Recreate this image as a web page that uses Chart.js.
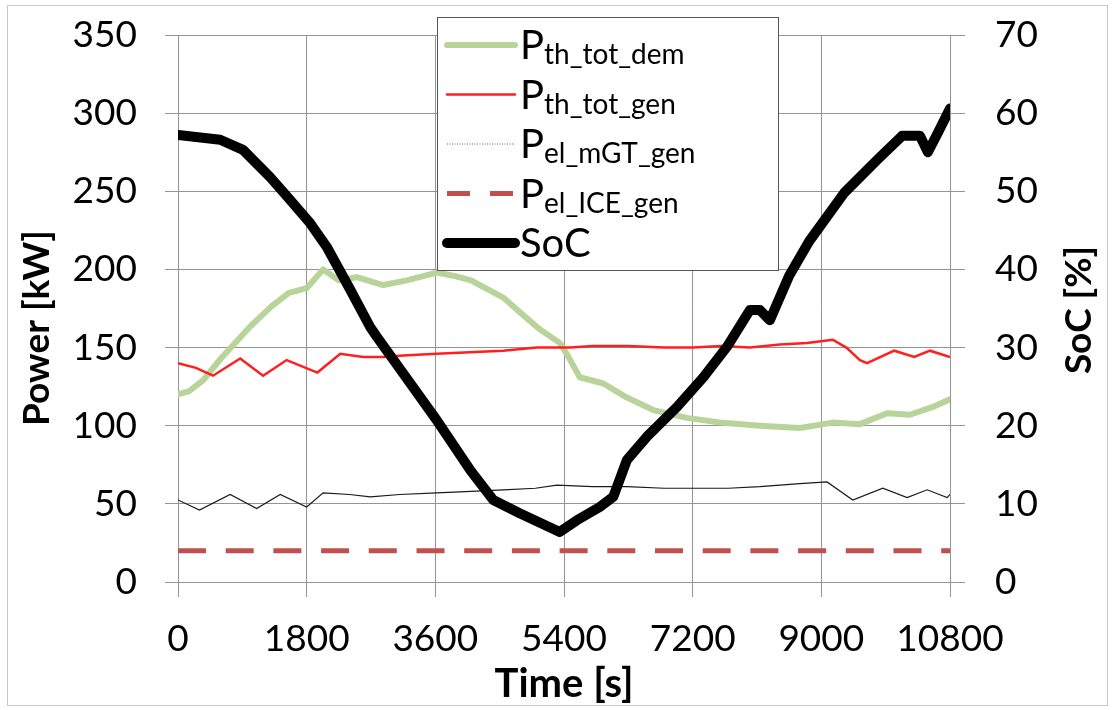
<!DOCTYPE html>
<html lang="en">
<head>
<meta charset="UTF-8">
<title>Power and SoC</title>
<script src="https://cdn.jsdelivr.net/npm/chart.js"></script>
<style>
  html, body { margin: 0; padding: 0; background: #fff; }
</style>
</head>
<body>
<canvas id="grafica" width="1115" height="710"></canvas>

<script>
// time [s] and values
const tDem = [0, 150, 350, 600, 1000, 1300, 1550, 1800, 2030, 2250, 2500, 2870, 3200, 3620, 3850, 4100, 4550, 4800, 5050, 5340, 5450, 5620, 5950, 6280, 6650, 7120, 7580, 8140, 8700, 9160, 9540, 9920, 10240, 10560, 10800];
const pDem = [120, 122, 129, 143, 163, 176, 185, 188, 200, 193, 195, 190, 193, 198, 196, 193, 182, 172, 162, 153, 145, 131, 127, 118, 110, 105, 102, 100, 98.5, 102, 101, 108, 107, 112, 117];

const tGen = [0, 250, 490, 870, 1190, 1520, 1950, 2270, 2590, 2870, 3150, 3620, 4080, 4550, 5020, 5480, 5800, 6300, 6800, 7200, 7600, 8000, 8420, 8800, 9160, 9350, 9540, 9640, 10020, 10300, 10520, 10800];
const pGen = [140, 137, 132, 143, 132, 142, 134, 146, 144, 144, 145, 146, 147, 148, 150, 150, 151, 151, 150, 150, 151, 150, 152, 153, 155, 150, 142, 140, 148, 144, 148, 144];

const tMgt = [0, 300, 730, 1100, 1430, 1800, 2030, 2400, 2690, 3100, 3620, 4100, 4550, 5000, 5300, 5800, 6280, 6800, 7200, 7700, 8140, 8700, 9080, 9440, 9860, 10200, 10480, 10760, 10800];
const pMgt = [52.5, 46, 56, 47, 56, 48, 57, 56, 54.5, 56, 57, 58, 59, 60, 62, 61, 61, 60, 60, 60, 61, 63, 64, 52.5, 60, 54, 59, 54, 56];

const tIce = [0, 10800];
const pIce = [20, 20];

const tSoc = [0, 590, 910, 1290, 1530, 1850, 2080, 2410, 2690, 2780, 3150, 3620, 4090, 4410, 4780, 5340, 5580, 5900, 6090, 6280, 6560, 6980, 7350, 7680, 8000, 8140, 8280, 8550, 8830, 9320, 9790, 10130, 10380, 10490, 10620, 10800];
const soc  = [57.2, 56.6, 55.3, 51.8, 49.3, 45.9, 42.9, 37.4, 32.6, 31.4, 26.7, 20.7, 14.3, 10.5, 8.8, 6.4, 7.9, 9.6, 10.9, 15.6, 18.6, 22.4, 26.2, 30.1, 34.8, 34.8, 33.5, 39.2, 43.6, 49.8, 54.1, 57.1, 57.1, 55.0, 57.3, 60.6];

const nombres = ['P', 'P', 'P', 'P', 'SoC'];
const subindices = ['th_tot_dem', 'th_tot_gen', 'el_mGT_gen', 'el_ICE_gen', ''];

const xTicks = [0, 1800, 3600, 5400, 7200, 9000, 10800];

const fuente = 'Lato, "Open Sans", sans-serif';
const gris = '#949494';

function pares(ts, vs) {
    return ts.map((t, i) => ({ x: t, y: vs[i] }));
}

// marco, leyenda con subindices y titulos verticales
const extras = {
    id: 'extras',
    afterDraw(chart) {
        const c = chart.ctx;
        c.save();
        c.strokeStyle = '#c8c8c8';
        c.lineWidth = 1;
        c.strokeRect(7.5, 5.5, 1100, 700);

        // leyenda
        c.fillStyle = '#fff';
        c.fillRect(437, 17, 341, 253);
        c.strokeStyle = '#555';
        c.strokeRect(437.5, 17.5, 341, 253);

        chart.data.datasets.forEach((ds, i) => {
            const yc = 45 + i * 49.5;
            c.save();
            c.beginPath();
            c.moveTo(447, yc);
            c.lineTo(515, yc);
            if (ds.borderWidth <= 1.5) {
                c.strokeStyle = '#666';
                c.lineWidth = 1;
                c.setLineDash([1, 1.5]);
            } else {
                c.strokeStyle = ds.borderColor;
                c.lineWidth = ds.borderWidth;
                c.setLineDash(ds.borderDash ? [23, 20] : []);
                c.lineCap = ds.borderDash ? 'butt' : 'round';
            }
            c.stroke();
            c.restore();

            c.fillStyle = '#000';
            c.textBaseline = 'alphabetic';
            c.textAlign = 'left';
            c.font = '40px ' + fuente;
            c.fillText(nombres[i], 520, yc + 14);
            if (subindices[i]) {
                const w = c.measureText(nombres[i]).width;
                c.font = '28px ' + fuente;
                c.fillText(subindices[i], 520 + w, yc + 19);
            }
        });

        // titulos de los ejes verticales
        c.fillStyle = '#000';
        c.font = 'bold 37px ' + fuente;
        c.textAlign = 'center';
        c.textBaseline = 'middle';
        c.translate(37, 328);
        c.rotate(-Math.PI / 2);
        c.fillText('Power [kW]', 0, 0);
        c.setTransform(1, 0, 0, 1, 0, 0);
        c.translate(1079, 310);
        c.rotate(-Math.PI / 2);
        c.fillText('SoC [%]', 0, 0);
        c.restore();
    }
};

const ctx = document.getElementById('grafica').getContext('2d');
new Chart(ctx, {
    type: 'line',
    data: {
        datasets: [
            { label: 'P_th_tot_dem', data: pares(tDem, pDem), yAxisID: 'y', borderColor: '#b8d49a', borderWidth: 6, borderJoinStyle: 'round', borderCapStyle: 'round', order: 3 },
            { label: 'P_th_tot_gen', data: pares(tGen, pGen), yAxisID: 'y', borderColor: '#ff1f1f', borderWidth: 2.5, order: 2 },
            { label: 'P_el_mGT_gen', data: pares(tMgt, pMgt), yAxisID: 'y', borderColor: '#1a1a1a', borderWidth: 1.2, order: 1 },
            { label: 'P_el_ICE_gen', data: pares(tIce, pIce), yAxisID: 'y', borderColor: '#c0504d', borderWidth: 5, borderDash: [28, 19.7], order: 4 },
            { label: 'SoC', data: pares(tSoc, soc), yAxisID: 'y2', borderColor: '#000', borderWidth: 10, borderJoinStyle: 'round', borderCapStyle: 'round', order: 0 }
        ]
    },
    options: {
        responsive: false,
        animation: false,
        layout: { padding: { top: 35, left: 0, right: 0, bottom: 0 } },
        elements: { point: { radius: 0 }, line: { tension: 0, fill: false } },
        plugins: {
            legend: { display: false },
            tooltip: { enabled: false }
        },
        scales: {
            x: {
                type: 'linear',
                min: 0,
                max: 10800,
                afterBuildTicks: s => { s.ticks = xTicks.map(v => ({ value: v })); },
                ticks: { callback: v => String(v), color: '#000', font: { family: fuente, size: 37 }, padding: 20, maxRotation: 0 },
                grid: { color: gris, tickLength: 15 },
                border: { color: gris },
                title: { display: true, text: 'Time [s]', color: '#000', font: { family: fuente, size: 40, weight: 'bold' }, padding: { top: 0, bottom: 2 } },
                afterFit: s => { s.height = 128; s.paddingLeft = 0; s.paddingRight = 0; }
            },
            y: {
                position: 'left',
                min: 0,
                max: 350,
                ticks: { stepSize: 50, color: '#000', font: { family: fuente, size: 37 }, padding: 28 },
                grid: { color: gris, tickLength: 13 },
                border: { color: gris },
                afterFit: s => { s.width = 178; s.paddingTop = 0; s.paddingBottom = 0; }
            },
            y2: {
                position: 'right',
                min: 0,
                max: 70,
                ticks: { stepSize: 10, color: '#000', font: { family: fuente, size: 37 }, padding: 30 },
                grid: { drawOnChartArea: false, color: gris, tickLength: 15 },
                border: { color: gris },
                afterFit: s => { s.width = 165; s.paddingTop = 0; s.paddingBottom = 0; }
            }
        }
    },
    plugins: [extras]
});
</script>
</body>
</html>
